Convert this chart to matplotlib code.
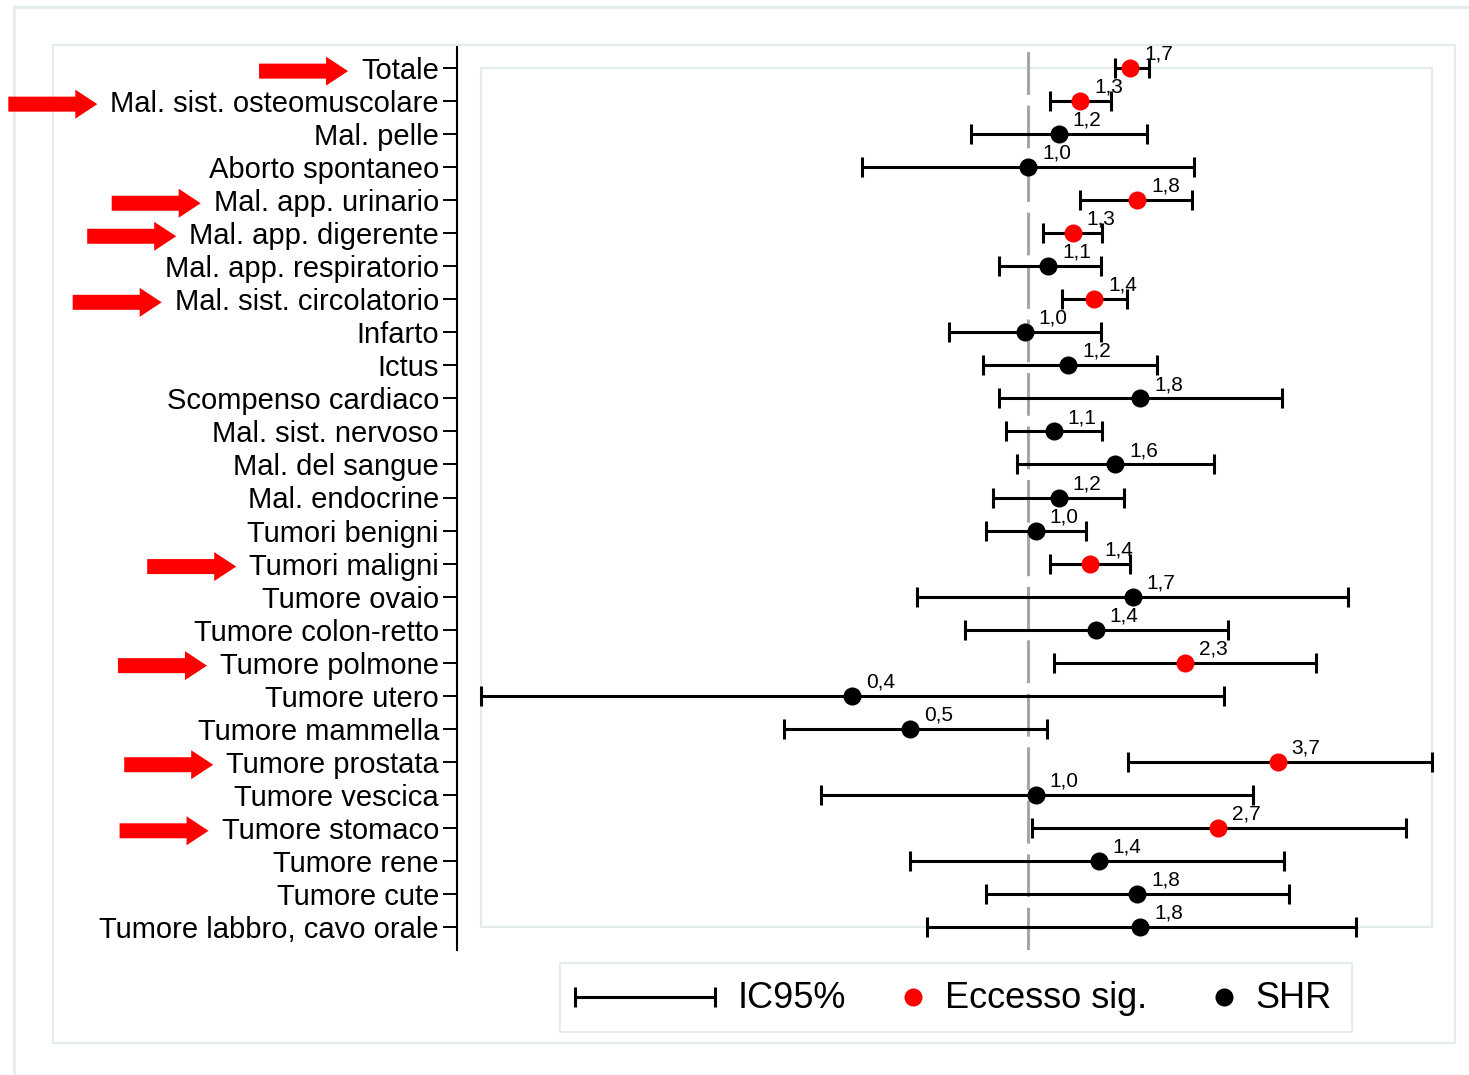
import matplotlib
matplotlib.use('Agg')
import matplotlib.pyplot as plt
import numpy as np
from matplotlib.patches import Rectangle, FancyArrow
from matplotlib.lines import Line2D
from matplotlib.transforms import IdentityTransform

# -----------------------data-----------------------
causes = ['Totale', 'Mal. sist. osteomuscolare', 'Mal. pelle', 'Aborto spontaneo',
          'Mal. app. urinario', 'Mal. app. digerente', 'Mal. app. respiratorio',
          'Mal. sist. circolatorio', 'Infarto', 'Ictus', 'Scompenso cardiaco',
          'Mal. sist. nervoso', 'Mal. del sangue', 'Mal. endocrine', 'Tumori benigni',
          'Tumori maligni', 'Tumore ovaio', 'Tumore colon-retto', 'Tumore polmone',
          'Tumore utero', 'Tumore mammella', 'Tumore prostata', 'Tumore vescica',
          'Tumore stomaco', 'Tumore rene', 'Tumore cute', 'Tumore labbro, cavo orale']
shr = np.array([1.70, 1.31, 1.17, 1.00, 1.76, 1.26, 1.11, 1.41, 0.98, 1.23, 1.79,
                1.14, 1.57, 1.17, 1.04, 1.38, 1.72, 1.42, 2.26, 0.40, 0.54, 3.66,
                1.04, 2.68, 1.44, 1.76, 1.79])
ci_low = np.array([1.57, 1.12, 0.74, 0.42, 1.31, 1.08, 0.86, 1.19, 0.66, 0.79, 0.86,
                   0.89, 0.94, 0.83, 0.80, 1.12, 0.56, 0.72, 1.14, 0.058, 0.28, 1.68,
                   0.34, 1.02, 0.54, 0.80, 0.59])
ci_high = np.array([1.87, 1.54, 1.85, 2.37, 2.34, 1.47, 1.46, 1.67, 1.46, 1.95, 3.74,
                    1.47, 2.62, 1.64, 1.35, 1.70, 5.27, 2.82, 4.46, 2.76, 1.10, 8.16,
                    3.21, 7.13, 3.77, 3.87, 5.49])

# -----------------------fig configuration-----------------------
W, H = 1469, 1075
plt.rcParams['font.family'] = ['Liberation Sans', 'DejaVu Sans']
fig = plt.figure(figsize=(W / 100, H / 100), dpi=100)

light = '#e4ebed'
red = '#ff0000'
black = '#000000'
gray = '#a6a6a6'

def px(x, y):
    return x / W, 1 - y / H

# graph region frames
fig.add_artist(Rectangle(px(14, 1200), 2, (1200 - 7) / H, transform=fig.transFigure,
                         fill=False, edgecolor=light, lw=2))
fig.add_artist(Rectangle(px(53, 1043), (1455 - 53) / W, (1043 - 45) / H, transform=fig.transFigure,
                         fill=False, edgecolor=light, lw=1.5))

ax = fig.add_axes([457 / W, 1 - 950 / H, (1456 - 457) / W, (950 - 45) / H])
ax.patch.set_alpha(0)

rows = np.arange(len(causes))
excess = ci_low > 1

# plot region box around the data range
ax.add_patch(Rectangle((ci_low.min(), 0), ci_high.max() - ci_low.min(), len(causes) - 1,
                       fill=False, edgecolor=light, lw=1.5, zorder=0))

ax.axvline(1, color=gray, lw=2.2, ls=(0, (14, 3.5)), zorder=1)

ax.errorbar(shr, rows, xerr=[shr - ci_low, ci_high - shr], fmt='none', ecolor=black,
            elinewidth=2.2, capsize=7, capthick=2.2, zorder=2)
ax.plot(shr[~excess], rows[~excess], 'o', color=black, ms=13, mec='none', zorder=3)
ax.plot(shr[excess], rows[excess], 'o', color=red, ms=13, mec='none', zorder=3)

for v, r in zip(shr, rows):
    ax.annotate(f'{v:.1f}'.replace('.', ','), (v, r), xytext=(10, 10), textcoords='offset points',
                ha='left', va='center', fontsize=15)

ax.set_xscale('log')
pad = 1.133
ax.set_xlim(ci_low.min() / pad, ci_high.max() * pad)
ax.set_ylim(len(causes) - 1 + 0.7, -0.7)
ax.tick_params(axis='x', which='both', bottom=False, labelbottom=False)
ax.set_yticks(rows)
ax.set_yticklabels(causes, fontsize=21)
ax.tick_params(axis='y', length=10, width=1.4, pad=3)
for s in ['top', 'right', 'bottom']:
    ax.spines[s].set_visible(False)
ax.spines['left'].set_linewidth(1.5)

# legend (drawn by hand)
fig.add_artist(Rectangle(px(560, 1032), (1352 - 560) / W, (1032 - 963) / H, transform=fig.transFigure,
                         fill=False, edgecolor=light, lw=1.5))
lx0, ly = px(575, 997)
lx1, _ = px(715, 997)
fig.add_artist(Line2D([lx0, lx1], [ly, ly], color=black, lw=2.2, marker='|', ms=14, mew=2.2,
                      transform=fig.transFigure))
fig.add_artist(Line2D([px(913, 997)[0]], [ly], color=red, marker='o', ms=13, mec='none',
                      transform=fig.transFigure))
fig.add_artist(Line2D([px(1224, 997)[0]], [ly], color=black, marker='o', ms=13, mec='none',
                      transform=fig.transFigure))
for txt, x in [('IC95%', 738), ('Eccesso sig.', 945), ('SHR', 1255)]:
    fig.text(*px(x, 999), txt, fontsize=26, ha='left', va='center')

# red arrows next to significant causes
fig.canvas.draw()
renderer = fig.canvas.get_renderer()
labels = ax.get_yticklabels()
for i in rows[excess]:
    bb = labels[i].get_window_extent(renderer)
    tip = bb.x0 - 13
    yc = (bb.y0 + bb.y1) / 2
    fig.add_artist(FancyArrow(tip - 89, yc, 89, 0, width=15, head_width=29, head_length=22,
                              length_includes_head=True, color=red, lw=0,
                              transform=IdentityTransform()))

plt.savefig('out.png', dpi=100)
